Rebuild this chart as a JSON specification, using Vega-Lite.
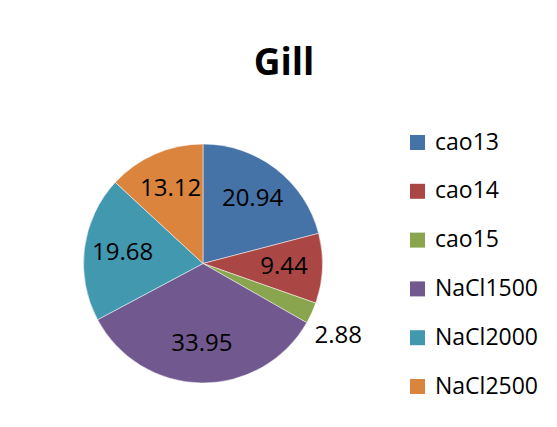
{
  "$schema": "https://vega.github.io/schema/vega-lite/v6.json",
  "width": 240,
  "height": 239,
  "autosize": {"type": "none"},
  "padding": {"left": 83, "top": 144, "right": 234, "bottom": 44},
  "background": "white",
  "title": {"text": "Gill", "font": "Open Sans", "fontSize": 37, "fontWeight": "bold", "color": "#000000", "anchor": "middle", "frame": "group", "dx": 81, "offset": 38},
  "data": {"values": [
    {"label": "cao13", "value": 20.94, "i": 1},
    {"label": "cao14", "value": 9.44, "i": 2},
    {"label": "cao15", "value": 2.88, "i": 3},
    {"label": "NaCl1500", "value": 33.95, "i": 4},
    {"label": "NaCl2000", "value": 19.68, "i": 5},
    {"label": "NaCl2500", "value": 13.12, "i": 6}
  ]},
  "encoding": {
    "theta": {"field": "value", "type": "quantitative", "stack": true},
    "order": {"field": "i", "type": "quantitative"}
  },
  "layer": [
    {
      "mark": {"type": "arc", "outerRadius": 119.5, "stroke": "#ffffff", "strokeWidth": 0.5},
      "encoding": {
        "color": {
          "field": "label", "type": "nominal",
          "scale": {"domain": ["cao13", "cao14", "cao15", "NaCl1500", "NaCl2000", "NaCl2500"], "range": ["#4572A7", "#AA4643", "#89A54E", "#71588F", "#4198AF", "#DB843D"]},
          "legend": {"orient": "none", "legendX": 323, "legendY": -13, "title": null, "symbolType": "square", "symbolSize": 225, "symbolStrokeWidth": 0, "labelFont": "Open Sans", "labelFontSize": 23, "labelColor": "#000000", "rowPadding": 24.8, "labelOffset": 6, "labelLimit": 200}
        }
      }
    },
    {
      "mark": {"type": "text", "radius": 81, "font": "Open Sans", "fontSize": 24, "color": "#000000"},
      "encoding": {
        "text": {"field": "value", "type": "quantitative", "format": ".2f"},
        "opacity": {"condition": {"test": "datum.label != 'cao15'", "value": 1}, "value": 0}
      }
    },
    {
      "mark": {"type": "text", "radius": 152, "dx": -3, "dy": 9, "font": "Open Sans", "fontSize": 24, "color": "#000000"},
      "encoding": {
        "text": {"field": "value", "type": "quantitative", "format": ".2f"},
        "opacity": {"condition": {"test": "datum.label == 'cao15'", "value": 1}, "value": 0}
      }
    }
  ],
  "config": {"view": {"stroke": null}}
}
